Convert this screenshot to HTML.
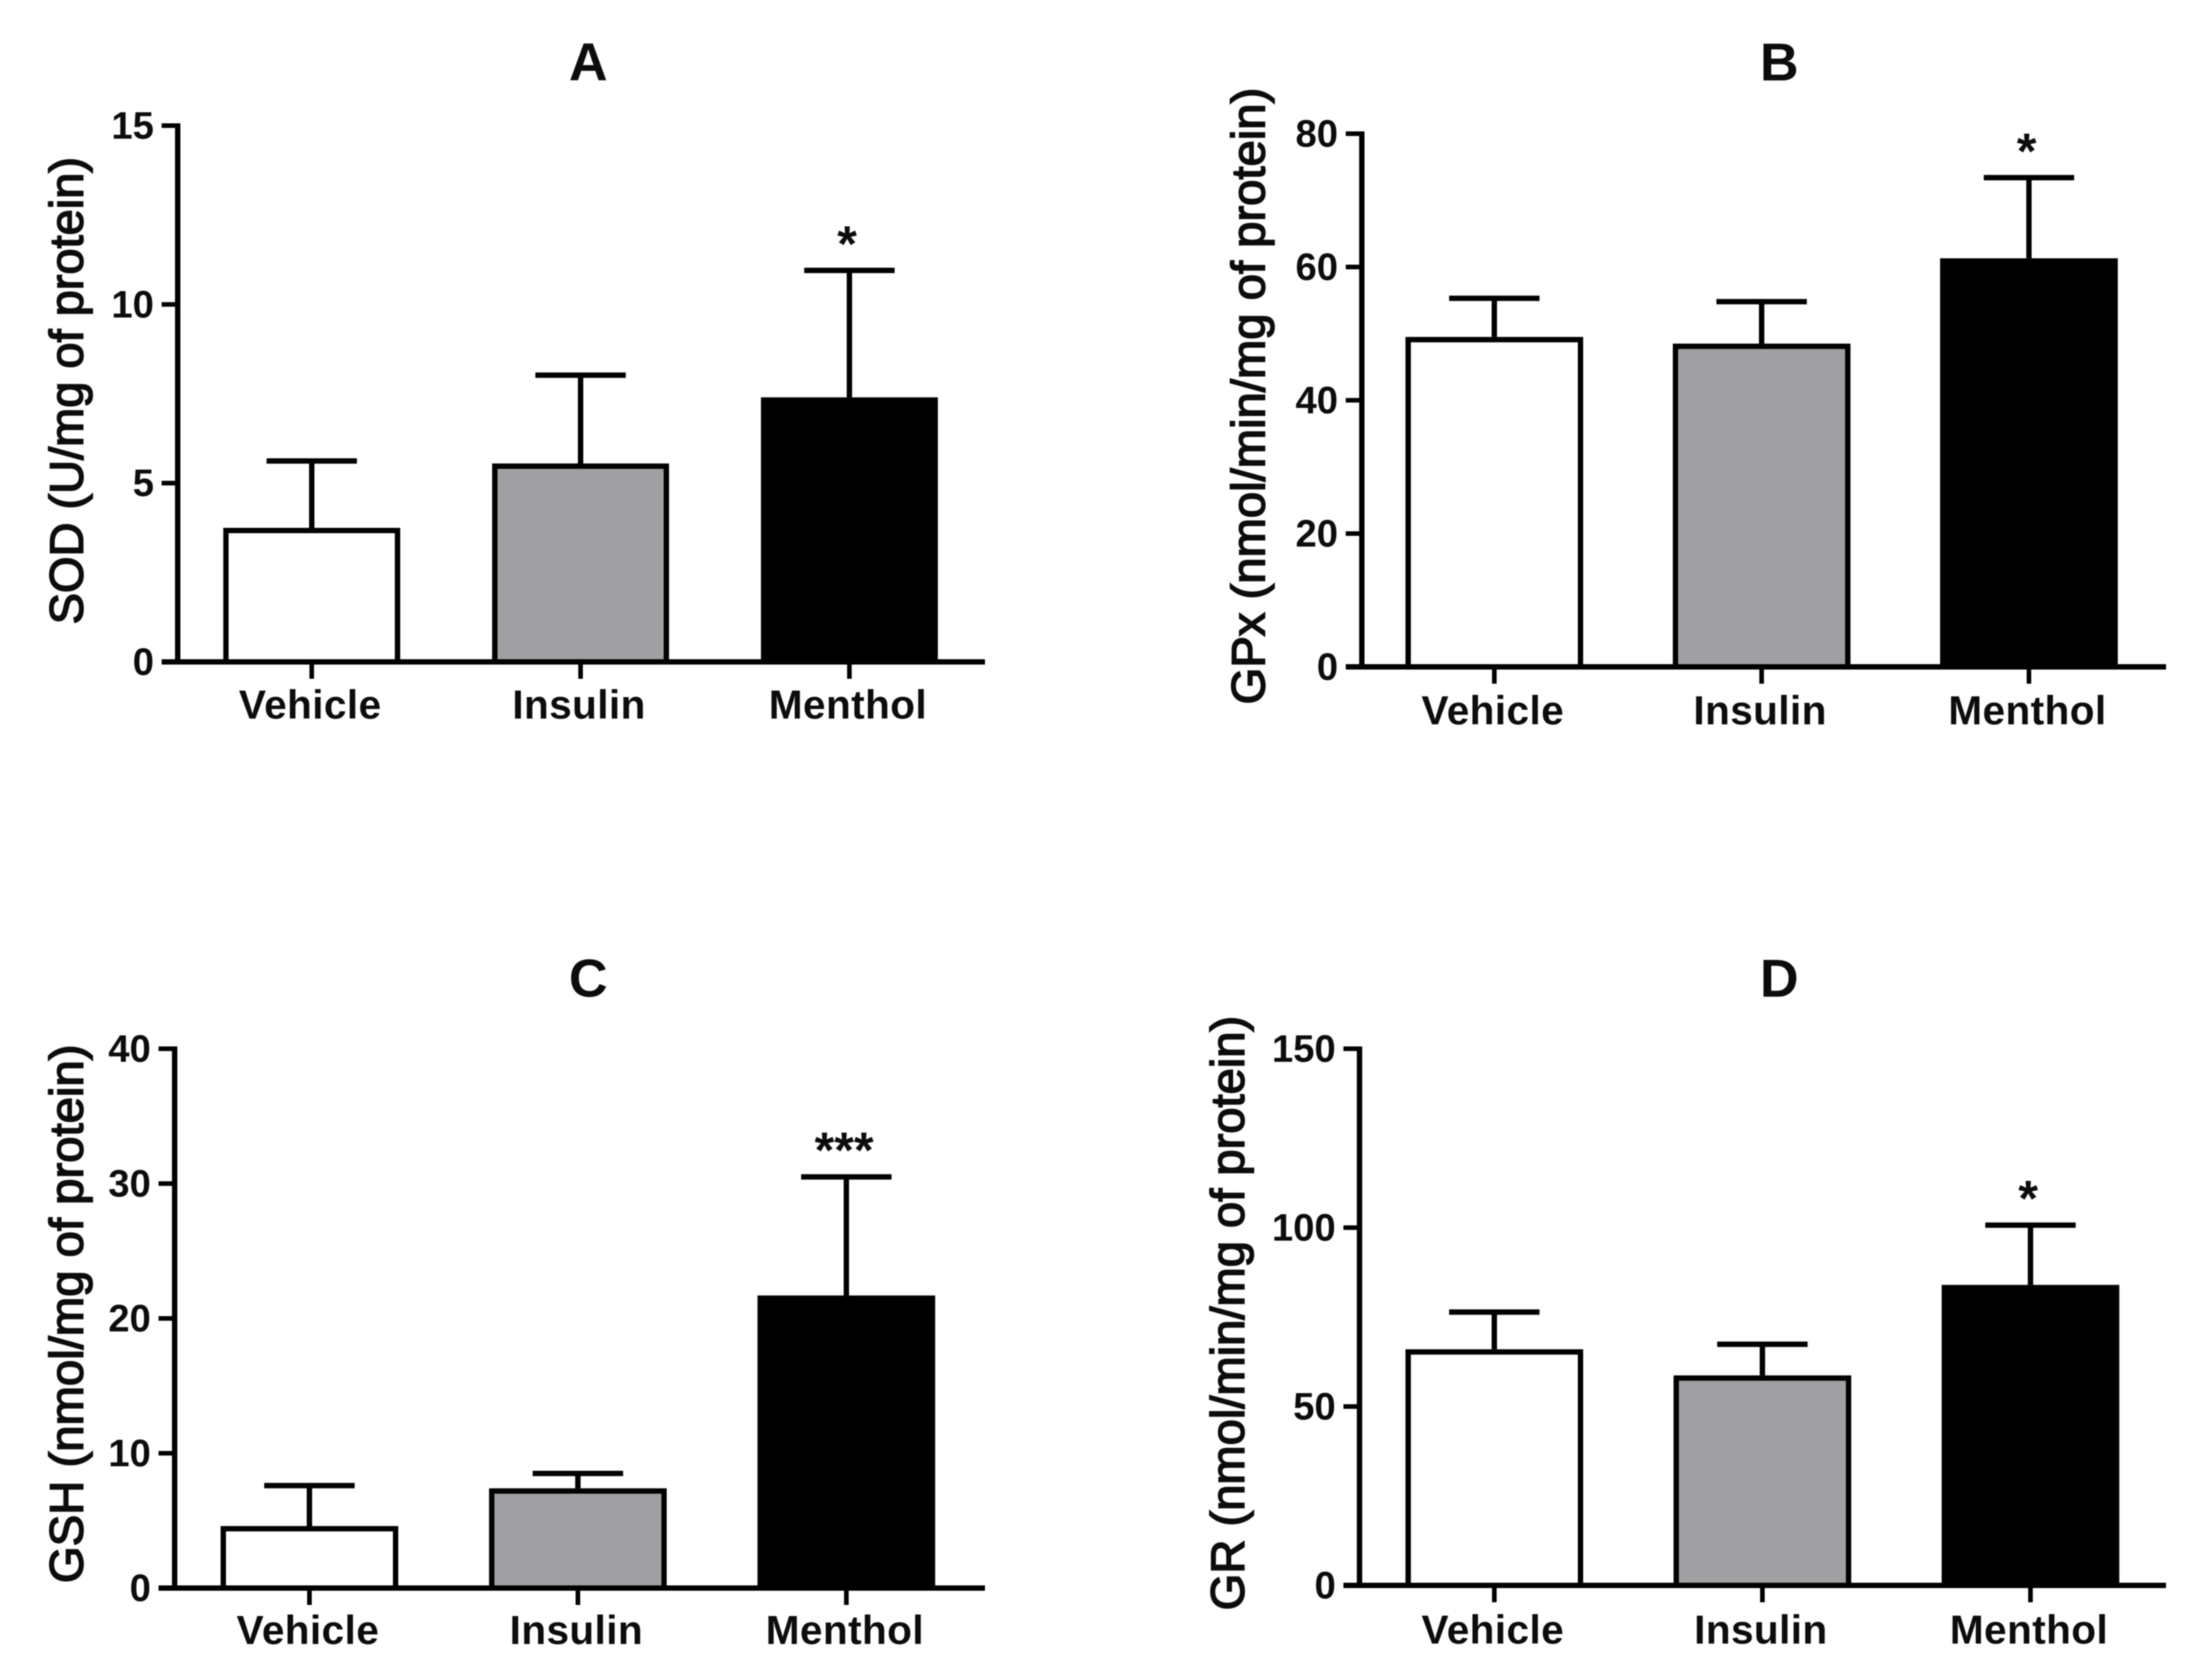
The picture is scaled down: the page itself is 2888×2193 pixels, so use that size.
<!DOCTYPE html>
<html lang="en">
<head>
<meta charset="utf-8">
<title>Antioxidant markers by treatment</title>
<style>
html,body{margin:0;padding:0;background:#fff;}
svg{display:block;filter:blur(0.9px);}
text{font-family:"Liberation Sans",Arial,sans-serif;font-weight:bold;fill:#0c0c0c;}
text.axis-title{font-weight:normal;stroke:#0c0c0c;stroke-width:2px;}
text.category-label{letter-spacing:0.5px;}
</style>
</head>
<body>
<svg id="figure" xmlns="http://www.w3.org/2000/svg" width="2888" height="2193" viewBox="0 0 2888 2193">
<rect width="2888" height="2193" fill="#fff"/>
</svg>
<script>
const categories = ["Vehicle", "Insulin", "Menthol"];

const sodMeans = [3.75, 5.55, 7.4];
const sodErrors = [1.87, 2.47, 3.55];
const sodTicks = [0, 5, 10, 15];
const sodStars = ["", "", "*"];

const gpxMeans = [49.5, 48.5, 61.3];
const gpxErrors = [5.8, 6.3, 12.1];
const gpxTicks = [0, 20, 40, 60, 80];
const gpxStars = ["", "", "*"];

const gshMeans = [4.6, 7.4, 21.7];
const gshErrors = [3.0, 1.1, 8.8];
const gshTicks = [0, 10, 20, 30, 40];
const gshStars = ["", "", "***"];

const grMeans = [66, 58.7, 84];
const grErrors = [10.4, 8.7, 16.7];
const grTicks = [0, 50, 100, 150];
const grStars = ["", "", "*"];

const NS = "http://www.w3.org/2000/svg";
const figure = document.getElementById("figure");

function make(parent, tag, props, content) {
  const node = document.createElementNS(NS, tag);
  for (const key in props) node.setAttribute(key, props[key]);
  if (content !== undefined) node.textContent = content;
  parent.appendChild(node);
  return node;
}

function drawPanel(p) {
  const maxValue = p.ticks[p.ticks.length - 1];
  const y = v => p.zeroY - (v / maxValue) * (p.zeroY - p.topY);
  const x = i => p.firstX + i * p.stepX;
  const fills = ["#ffffff", "#a0a0a2", "#000000"];
  const barStroke = 7;

  const g = make(figure, "g", {});
  
  

  const title = make(g, "text", {x: p.titleX, y: p.titleY, "text-anchor": "middle", "font-size": 70}, p.letter);
  
  

  const yTitle = make(g, "text", {
    class: "axis-title",
    transform: "translate(" + p.yTitleX + "," + p.yTitleY + ") rotate(-90)",
    "text-anchor": "middle", "font-size": 61,
    textLength: p.yTitleLength, lengthAdjust: "spacingAndGlyphs"
  }, p.yTitle);
  
  

  categories.forEach((name, i) => {
    const top = y(p.means[i] + p.errors[i]);

    const stem = make(g, "line", {x1: x(i), x2: x(i), y1: y(p.means[i]), y2: top, stroke: "#000", "stroke-width": 7});
    
    

    const cap = make(g, "line", {x1: x(i) - 59, x2: x(i) + 59, y1: top, y2: top, stroke: "#000", "stroke-width": 7});
    
    

    const bar = make(g, "rect", {
      x: x(i) - p.barWidth / 2 + barStroke / 2,
      y: y(p.means[i]) + barStroke / 2,
      width: p.barWidth - barStroke,
      height: Math.max(0, p.zeroY - y(p.means[i]) - barStroke / 2),
      fill: fills[i], stroke: "#000", "stroke-width": barStroke
    });
    
    

    if (p.stars[i]) {
      const star = make(g, "text", {x: x(i) - 3, y: top - 12, "text-anchor": "middle", "font-size": 66}, p.stars[i]);
      
      
    }

    const tick = make(g, "line", {x1: x(i), x2: x(i), y1: p.zeroY, y2: p.zeroY + 22, stroke: "#000", "stroke-width": 6});
    
    

    const label = make(g, "text", {class: "category-label", x: x(i) - 2, y: p.zeroY + p.labelGap, "text-anchor": "middle", "font-size": 53}, name);
    
    
  });

  const yAxis = make(g, "line", {x1: p.axisX, x2: p.axisX, y1: p.topY - 3, y2: p.zeroY + 3, stroke: "#000", "stroke-width": 7});
  
  

  const xAxis = make(g, "line", {x1: p.axisX - 21, x2: p.rightX, y1: p.zeroY, y2: p.zeroY, stroke: "#000", "stroke-width": 7});
  
  

  p.ticks.forEach(t => {
    const tick = make(g, "line", {x1: p.axisX - 21, x2: p.axisX, y1: y(t), y2: y(t), stroke: "#000", "stroke-width": 6});
    
    

    const label = make(g, "text", {x: p.axisX - 31, y: y(t) + 17, "text-anchor": "end", "font-size": 50}, String(t));
    
    
  });
}

drawPanel({key: "sod", letter: "A", yTitle: "SOD (U/mg of protein)",
  means: sodMeans, errors: sodErrors, ticks: sodTicks, stars: sodStars,
  axisX: 232, rightX: 1286, topY: 164, zeroY: 864, firstX: 407, stepX: 351, barWidth: 231, labelGap: 74,
  titleX: 768, titleY: 105, yTitleX: 108, yTitleY: 510, yTitleLength: 610});

drawPanel({key: "gpx", letter: "B", yTitle: "GPx (nmol/min/mg of protein)",
  means: gpxMeans, errors: gpxErrors, ticks: gpxTicks, stars: gpxStars,
  axisX: 1778, rightX: 2828, topY: 174.5, zeroY: 870.5, firstX: 1951, stepX: 349, barWidth: 232, labelGap: 75,
  titleX: 2323, titleY: 105, yTitleX: 1651, yTitleY: 517, yTitleLength: 805});

drawPanel({key: "gsh", letter: "C", yTitle: "GSH (nmol/mg of protein)",
  means: gshMeans, errors: gshErrors, ticks: gshTicks, stars: gshStars,
  axisX: 228, rightX: 1286, topY: 1369, zeroY: 2073, firstX: 404, stepX: 350.5, barWidth: 232, labelGap: 73,
  titleX: 768, titleY: 1301, yTitleX: 108, yTitleY: 1715, yTitleLength: 703});

drawPanel({key: "gr", letter: "D", yTitle: "GR (nmol/min/mg of protein)",
  means: grMeans, errors: grErrors, ticks: grTicks, stars: grStars,
  axisX: 1775, rightX: 2828, topY: 1369, zeroY: 2069.5, firstX: 1951, stepX: 350, barWidth: 232, labelGap: 76,
  titleX: 2323, titleY: 1301, yTitleX: 1624, yTitleY: 1714, yTitleLength: 776});
</script>
</body>
</html>
